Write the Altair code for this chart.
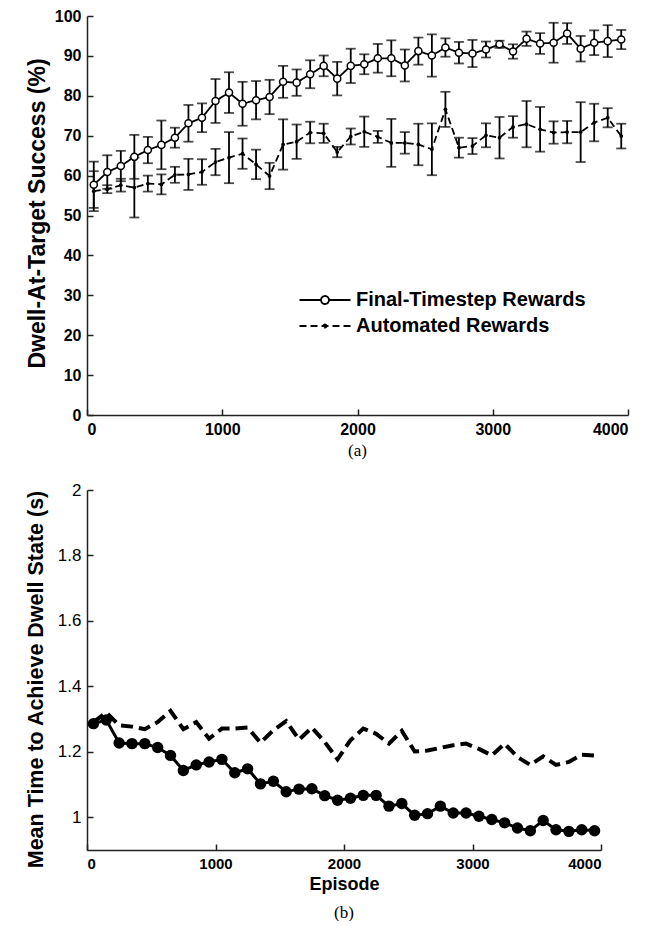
import altair as alt
import pandas as pd

episodes = [50, 150, 250, 350, 450, 550, 650, 750, 850, 950,
            1050, 1150, 1250, 1350, 1450, 1550, 1650, 1750, 1850, 1950,
            2050, 2150, 2250, 2350, 2450, 2550, 2650, 2750, 2850, 2950,
            3050, 3150, 3250, 3350, 3450, 3550, 3650, 3750, 3850, 3950]

final_success = [57.7, 60.9, 62.4, 64.7, 66.4, 67.7, 69.5, 73.1, 74.5, 78.7,
                 80.8, 78.0, 78.9, 79.7, 83.5, 83.3, 85.4, 87.5, 84.3, 87.5,
                 87.9, 89.4, 89.4, 87.6, 91.2, 90.1, 92.1, 90.8, 90.6, 91.6,
                 92.9, 91.1, 94.3, 93.1, 93.3, 95.6, 91.8, 93.3, 93.7, 94.1]
final_err = [5.8, 4.2, 3.8, 5.5, 3.3, 6.1, 2.5, 4.6, 3.6, 5.5,
             5.1, 5.5, 4.8, 4.3, 4.0, 3.3, 3.5, 2.6, 4.2, 4.3,
             2.5, 3.6, 4.5, 4.0, 3.4, 5.3, 2.3, 2.7, 3.4, 2.0,
             0.9, 1.8, 1.8, 2.6, 5.0, 2.6, 3.2, 3.1, 4.0, 2.4]

auto_success = [56.1, 56.6, 57.6, 57.0, 58.0, 57.8, 60.2, 60.3, 60.9, 63.4,
                64.5, 65.5, 62.8, 59.9, 67.8, 68.5, 70.8, 70.6, 65.9, 69.8,
                71.0, 69.7, 68.2, 68.2, 67.8, 66.6, 76.6, 67.0, 67.4, 70.1,
                69.5, 72.2, 72.9, 71.6, 70.8, 70.9, 70.9, 73.3, 74.5, 69.9]
auto_err = [5.0, 1.0, 1.6, 7.5, 2.0, 2.5, 2.0, 3.9, 3.2, 3.3,
            6.4, 3.8, 3.7, 3.3, 6.3, 4.3, 2.7, 2.4, 1.3, 2.0,
            3.8, 1.5, 6.0, 2.7, 5.2, 6.5, 4.4, 2.5, 2.0, 3.0,
            5.2, 2.7, 5.8, 5.6, 2.8, 2.8, 7.5, 4.7, 2.4, 3.1]

final_time = [1.286, 1.297, 1.227, 1.225, 1.225, 1.213, 1.189, 1.143, 1.160, 1.169,
              1.177, 1.136, 1.148, 1.102, 1.110, 1.078, 1.086, 1.087, 1.066, 1.052,
              1.058, 1.067, 1.067, 1.034, 1.042, 1.006, 1.011, 1.034, 1.013, 1.013,
              1.003, 0.993, 0.983, 0.967, 0.959, 0.990, 0.962, 0.957, 0.962, 0.959]
auto_time = [1.291, 1.320, 1.281, 1.277, 1.269, 1.291, 1.325, 1.269, 1.291, 1.240,
             1.271, 1.271, 1.274, 1.228, 1.266, 1.294, 1.237, 1.274, 1.230, 1.177,
             1.235, 1.271, 1.255, 1.225, 1.264, 1.201, 1.204, 1.212, 1.220, 1.225,
             1.209, 1.189, 1.225, 1.184, 1.160, 1.186, 1.160, 1.169, 1.191, 1.189]

series = ["Final-Timestep Rewards", "Automated Rewards"]
x_ticks = [0, 1000, 2000, 3000, 4000]
top_y_ticks = [0, 10, 20, 30, 40, 50, 60, 70, 80, 90, 100]
bottom_y_ticks = [1, 1.2, 1.4, 1.6, 1.8, 2]

rows = []
for i, e in enumerate(episodes):
    rows.append({"episode": e, "series": series[0], "success": final_success[i],
                 "lo": final_success[i] - final_err[i], "hi": final_success[i] + final_err[i],
                 "time": final_time[i]})
    rows.append({"episode": e, "series": series[1], "success": auto_success[i],
                 "lo": auto_success[i] - auto_err[i], "hi": auto_success[i] + auto_err[i],
                 "time": auto_time[i]})
df = pd.DataFrame(rows)

SANS = "Liberation Sans"
NARROW = "Liberation Sans Narrow, Liberation Sans"
SERIF = "Liberation Serif"
INWARD = {"expr": "-6"}

def axis_style(**kw):
    base = dict(grid=False, domainColor="#222", domainWidth=1.5, tickColor="#222",
                tickWidth=1.5, tickSize=INWARD, labelPadding=12, labelColor="black",
                titleColor="black", labelFont=SANS, titleFont=SANS, labelOverlap=False)
    base.update(kw)
    return alt.Axis(**base)

# ---------- top panel ----------
x_top = alt.X("episode:Q", scale=alt.Scale(domain=[0, 4000], nice=False),
              axis=axis_style(values=x_ticks, format="d", title=None, labelFontSize=16,
                              labelFontWeight="bold"))
y_top_axis = axis_style(values=top_y_ticks, format="d", title="Dwell-At-Target Success (%)",
                        labelFontSize=16, labelFontWeight="bold", titleFontSize=23,
                        titleFontWeight="bold", titlePadding=5, titleY=197)
y_top_scale = alt.Scale(domain=[0, 100], nice=False)

def ytop(field):
    return alt.Y(field, scale=y_top_scale, axis=y_top_axis)

base_top = alt.Chart(df)

bars = base_top.mark_rule(color="black", strokeWidth=1.8).encode(
    x=x_top, y=ytop("lo:Q"), y2="hi:Q")
cap_lo = base_top.mark_tick(orient="horizontal", size=10, thickness=1.8, color="black").encode(
    x=x_top, y=ytop("lo:Q"))
cap_hi = base_top.mark_tick(orient="horizontal", size=10, thickness=1.8, color="black").encode(
    x=x_top, y=ytop("hi:Q"))

P_FINAL = "M-2.55,0H-0.4A0.4,0.4 0 1 1 0.4,0A0.4,0.4 0 1 1 -0.4,0M0.4,0H2.55"
P_AUTO = "M-2.55,0H2.55M-0.15,0A0.15,0.15 0 1 1 0.15,0A0.15,0.15 0 1 1 -0.15,0"
TEST = "datum.value === 'Final-Timestep Rewards'"

legend = alt.Legend(
    title=None, orient="none", legendX=227, legendY=273, direction="vertical",
    symbolSize=400, symbolStrokeWidth=1.8, symbolStrokeColor="black",
    symbolType={"expr": f"{TEST} ? '{P_FINAL}' : '{P_AUTO}'"},
    symbolFillColor={"expr": f"{TEST} ? 'white' : 'black'"},
    labelFont=SANS, labelFontWeight="bold", labelFontSize=20, labelColor="black",
    labelOffset=20, labelLimit=400, rowPadding=5, padding=0)

lines_top = base_top.mark_line(color="black", strokeWidth=1.8).encode(
    x=x_top, y=ytop("success:Q"),
    strokeDash=alt.StrokeDash("series:N", scale=alt.Scale(domain=series, range=[[1, 0], [7, 4]]),
                              legend=legend))
pts_final = base_top.transform_filter(alt.datum.series == series[0]).mark_point(
    shape="circle", size=50, strokeWidth=1.5, color="black", fill="white", filled=False,
    fillOpacity=1, opacity=1).encode(x=x_top, y=ytop("success:Q"))
pts_auto = base_top.transform_filter(alt.datum.series == series[1]).mark_circle(
    size=14, color="black", opacity=1).encode(x=x_top, y=ytop("success:Q"))

top = alt.layer(bars, cap_lo, cap_hi, lines_top, pts_final, pts_auto).properties(
    width=541, height=399,
    title=alt.TitleParams("(a)", orient="bottom", font=SERIF, fontSize=17,
                          fontWeight="normal", color="black", anchor="middle",
                          frame="group", offset=6))

# ---------- bottom panel ----------
x_bot = alt.X("episode:Q", scale=alt.Scale(domain=[0, 4000], nice=False),
              axis=axis_style(values=x_ticks, format="d", title="Episode", labelFontSize=15,
                              labelFontWeight="bold", labelFont=NARROW,
                              titleFontSize=18, titleFontWeight="bold", titlePadding=4))
y_bot_scale = alt.Scale(domain=[0.9, 2], nice=False)
y_bot = alt.Y("time:Q", scale=y_bot_scale,
              axis=axis_style(values=bottom_y_ticks, format="~g",
                              title="Mean Time to Achieve Dwell State (s)",
                              labelFontSize=17, titleFontSize=21.5, titleFontWeight="bold",
                              titlePadding=10, titleY=189))

base_bot = alt.Chart(df)
auto_line = base_bot.transform_filter(alt.datum.series == series[1]).mark_line(
    color="black", strokeWidth=4, strokeDash=[12, 6]).encode(x=x_bot, y=y_bot)
final_line = base_bot.transform_filter(alt.datum.series == series[0]).mark_line(
    color="black", strokeWidth=3).encode(x=x_bot, y=y_bot)
final_pts = base_bot.transform_filter(alt.datum.series == series[0]).mark_circle(
    size=130, color="black", opacity=1).encode(x=x_bot, y=y_bot)

bottom = alt.layer(auto_line, final_line, final_pts).properties(
    width=514, height=360,
    title=alt.TitleParams("(b)", orient="bottom", font=SERIF, fontSize=17,
                          fontWeight="normal", color="black", anchor="middle",
                          frame="group", offset=12))

chart = alt.vconcat(top, bottom, spacing=75, bounds="flush").properties(
    padding={"left": 17, "top": 0, "right": 5, "bottom": 0},
    background="white",
).configure_view(stroke=None)

chart.save("out.html", embed_options={"renderer": "svg", "actions": False})
